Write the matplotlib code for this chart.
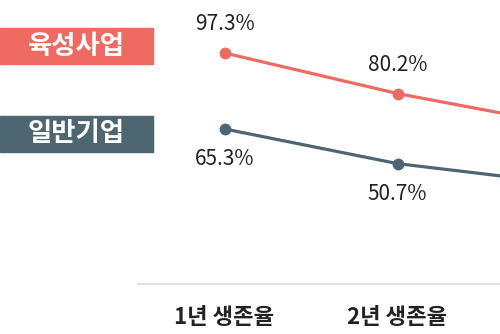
import matplotlib
matplotlib.use("Agg")
import matplotlib.pyplot as plt
from matplotlib.patches import Rectangle

plt.rcParams['font.family'] = ['Noto Sans CJK KR', 'DejaVu Sans']

# data
categories = ["1년 생존율", "2년 생존율", "3년 생존율"]
series_names = ["육성사업", "일반기업"]
support = [97.3, 80.2, 66.5]
general = [65.3, 50.7, 42.0]
support_labels = ["97.3%", "80.2%", ""]
general_labels = ["65.3%", "50.7%", ""]

red = "#EE6A63"
slate = "#4E6572"

fig = plt.figure(figsize=(5, 3.34), dpi=100)
ax = fig.add_axes([138 / 500, 50 / 334, 1 - 138 / 500, 284 / 334])
x = list(range(len(categories)))

ax.plot(x, support, color=red, lw=2.3, marker="o", ms=7.5, zorder=3)
ax.plot(x, general, color=slate, lw=2.3, marker="o", ms=7.5, zorder=3)

for i, (v, t) in enumerate(zip(support, support_labels)):
    ax.annotate(t, (i, v), xytext=(0, 13), textcoords="offset points",
                ha="center", va="bottom", fontsize=15, fontweight="medium",
                color="#222222")
for i, (v, t) in enumerate(zip(general, general_labels)):
    ax.annotate(t, (i, v), xytext=(0, -14), textcoords="offset points",
                ha="center", va="top", fontsize=15, fontweight="medium",
                color="#222222")

ax.set_xticks(x)
ax.set_xticklabels(categories, fontsize=16, fontweight="bold", color="#222222")
ax.set_xlim(-0.5, -0.5 + 362 / 173)
ax.set_ylim(0, 119.6)
ax.tick_params(axis="x", length=0, pad=16)
ax.set_yticks([])
for s in ["top", "right", "left"]:
    ax.spines[s].set_visible(False)
ax.spines["bottom"].set_color("#E2E2E2")
ax.spines["bottom"].set_linewidth(1.6)

# legend boxes
boxes = [(28, 64, red), (116, 152, slate)]
for name, (y0, y1, c) in zip(series_names, boxes):
    fig.patches.append(Rectangle((0, 1 - y1 / 334), 153 / 500, (y1 - y0) / 334,
                                 transform=fig.transFigure, color=c, zorder=1))
    fig.text(76 / 500, 1 - (y0 + y1) / 2 / 334, name, ha="center", va="center",
             color="white", fontsize=19, fontweight="bold")

fig.savefig("out.png", dpi=100)
